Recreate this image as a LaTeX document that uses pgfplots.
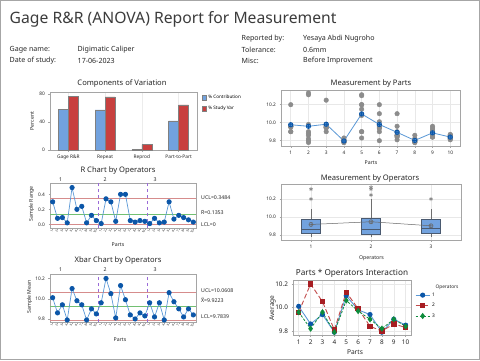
\documentclass[border=0pt]{standalone}
\usepackage{fontspec}
\setmainfont{Noto Sans}
\usepackage{pgfplots}
\pgfplotsset{compat=1.18}
\definecolor{mblue}{HTML}{72A2DE}
\definecolor{mred}{HTML}{C8403F}
\definecolor{frm}{HTML}{A5A5A5}
\definecolor{dotblue}{HTML}{0B56A8}
\definecolor{lineblue}{HTML}{5A98D6}
\definecolor{uclc}{HTML}{D68C8C}
\definecolor{clc}{HTML}{72C072}
\definecolor{purp}{HTML}{9A6AD8}
\definecolor{ptgray}{HTML}{8C8C8C}
\definecolor{optwo}{HTML}{A71D22}
\definecolor{optwol}{HTML}{C24A4A}
\definecolor{opthree}{HTML}{0E8C3C}
\definecolor{txt}{HTML}{262626}
\definecolor{boxedge}{HTML}{4A5A70}
\definecolor{whisk}{HTML}{6E6E6E}
\newcommand{\fs}[1]{\fontsize{#1}{#1}\selectfont}
\pgfplotsset{
  panel/.style={
    scale only axis, anchor=north west,
    axis line style={draw=frm, line width=0.7pt},
    tick align=outside, tick pos=left, major tick length=1.5pt,
    every tick/.style={draw=frm, line width=0.4pt},
    tick label style={font=\fs{4.8}, text=txt},
    /pgf/number format/assume math mode=true,
  },
  yfix/.style={y tick label style={/pgf/number format/.cd, fixed, fixed zerofill, precision=1, /tikz/.cd}},
  lgrid/.style={grid=major, major grid style={gray!18, line width=0.5pt}},
  wh/.style={whisk, line width=0.6pt, forget plot},
  bx/.style={fill=mblue, draw=boxedge, line width=0.6pt, forget plot},
}
\begin{document}
\begin{tikzpicture}[x=1pt,y=1pt]
\useasboundingbox (0,0) rectangle (480,-360);
\fill[white] (0,0) rectangle (480,-360);
\draw[gray!70, line width=0.8pt] (0.6,-0.6) rectangle (479.4,-359.4);
% header
\node[anchor=west, font=\fs{15.7}, text=txt!90, inner sep=0pt] at (9.5,-19) {Gage R\&R (ANOVA) Report for Measurement};
\begin{scope}[every node/.style={anchor=west, font=\fs{7.1}, text=txt, inner sep=0pt}]
\node at (241.5,-38.3) {Reported by:};
\node at (303,-38.3) {Yesaya Abdi Nugroho};
\node at (9.5,-50) {Gage name:};
\node at (77.5,-50) {Digimatic Caliper};
\node at (241.5,-50) {Tolerance:};
\node at (303,-50) {0.6mm};
\node at (9.5,-60.7) {Date of study:};
\node at (77.5,-60.7) {17-06-2023};
\node at (241.5,-60.7) {Misc:};
\node at (303,-60.7) {Before Improvement};
\end{scope}
% panel titles and labels
\begin{scope}[every node/.style={font=\fs{7.6}, text=txt, inner sep=0pt}]
\node at (122,-83.5) {Components of Variation};
\node at (371,-83.3) {Measurement by Parts};
\node at (118,-171) {R Chart by Operators};
\node at (370,-179) {Measurement by Operators};
\node at (118,-261) {Xbar Chart by Operators};
\node[font=\fs{8.2}] at (352,-273.5) {Parts * Operators Interaction};
\end{scope}
\begin{scope}[every node/.style={font=\fs{5.2}, text=txt, inner sep=0pt}]
\node[rotate=90] at (32,-121) {Percent};
\node at (371,-163) {Parts};
\node[rotate=90] at (31.5,-204) {Sample Range};
\node at (118,-245) {Parts};
\node at (371.5,-258) {Operators};
\node[rotate=90] at (29.5,-297) {Sample Mean};
\node at (120,-340) {Parts};
\node[font=\fs{6.6}] at (355,-352) {Parts};
\node[rotate=90, font=\fs{6.6}] at (272.5,-308) {Average};
\node at (60.5,-179.5) {1};
\node at (105,-179.5) {2};
\node at (155,-179.5) {3};
\node at (60.5,-270) {1};
\node at (105,-270) {2};
\node at (155,-270) {3};
\node[anchor=west] at (201,-197.3) {UCL=0.3484};
\node[anchor=west] at (201,-212.6) {$\bar{\mbox{R}}$=0.1353};
\node[anchor=west] at (201,-225) {LCL=0};
\node[anchor=west] at (201,-290.7) {UCL=10.0608};
\node[anchor=west] at (201,-300.2) {$\bar{\bar{\mbox{X}}}$=9.9223};
\node[anchor=west] at (201,-316.7) {LCL=9.7839};
\node[font=\fs{4.8}] at (447,-287.3) {Operators};
\end{scope}

% Components of variation
\begin{axis}[panel, at={(50pt,-92pt)}, width=147pt, height=58pt,
  xmin=-0.5, xmax=3.5, ymin=0, ymax=83, ytick={0,40,80},
  xtick={0,1,2,3}, xticklabels={Gage R\&R, Repeat, Reprod, Part-to-Part},
  xmajorgrids, major grid style={gray!15},
  ybar=0pt, bar width=10pt,
  legend style={at={(1.03,0.985)}, anchor=north west, draw=none, fill=none,
    font=\fs{4.6}, inner sep=0pt, row sep=2pt, cells={anchor=west}},
  legend image code/.code={\draw[#1] (0pt,-2.2pt) rectangle (4.4pt,2.2pt);}]
\addplot[fill=mblue, draw=gray] coordinates {(0,58.2) (1,57.6) (2,0.6) (3,41.8)};
\addplot[fill=mred, draw=gray] coordinates {(0,76.3) (1,75.9) (2,7.7) (3,64.7)};
\legend{\% Contribution, \% Study Var}
\end{axis}

% Measurement by Parts
\begin{axis}[panel, yfix, lgrid, at={(281pt,-90pt)}, width=179pt, height=56pt,
  xmin=0.45, xmax=10.55, ymin=9.741, ymax=10.363, xtick={1,...,10}, ytick={9.8,10.0,10.2}]
\addplot[only marks, mark=*, mark size=2.3pt, ptgray] table {
x y
1 9.90
1 9.90
1 10.20
1 9.96
1 9.96
1 9.97
1 9.95
1 9.96
1 9.96
2 9.82
2 9.86
2 9.90
2 9.98
2 10.31
2 10.33
2 9.78
2 9.80
2 9.88
3 9.90
3 9.94
3 9.98
3 9.95
3 9.95
3 10.25
3 9.95
3 9.96
3 9.97
4 9.78
4 9.79
4 9.80
4 9.79
4 9.81
4 9.83
4 9.78
4 9.79
4 9.81
5 9.83
5 10.15
5 10.31
5 9.90
5 10.20
5 10.30
5 9.90
5 10.08
5 10.20
6 9.90
6 9.94
6 10.10
6 9.80
6 9.97
6 10.20
6 9.94
6 9.96
6 10.01
7 9.86
7 9.86
7 10.10
7 9.81
7 9.85
7 9.86
7 9.84
7 9.90
7 9.96
8 9.78
8 9.79
8 9.80
8 9.79
8 9.80
8 9.82
8 9.78
8 9.82
8 9.86
9 9.84
9 9.90
9 9.96
9 9.84
9 9.86
9 9.89
9 9.87
9 9.92
9 9.94
10 9.82
10 9.86
10 9.87
10 9.81
10 9.83
10 9.85
10 9.83
10 9.84
10 9.86
};
\addplot[lineblue, line width=0.8pt, mark=oplus*, mark size=2.2pt, mark options={fill=lineblue, draw=dotblue}] coordinates {
(1,9.977) (2,9.960) (3,9.983) (4,9.797) (5,10.097) (6,9.980) (7,9.893) (8,9.803) (9,9.887) (10,9.840)};
\end{axis}

% R chart
\begin{axis}[panel, yfix, at={(50pt,-183pt)}, width=146pt, height=45pt,
  xmin=0.45, xmax=30.55, ymin=-0.049, ymax=0.551, ytick={0,0.2,0.4},
  xtick={1,...,30},
  xticklabels={1,2,3,4,5,6,7,8,9,10,1,2,3,4,5,6,7,8,9,10,1,2,3,4,5,6,7,8,9,10},
  x tick label style={font=\fs{3.2}, rotate=60, anchor=east, inner sep=0.6pt}]
\addplot[uclc, line width=0.9pt] coordinates {(0.45,0.3484) (30.55,0.3484)};
\addplot[clc, line width=0.9pt] coordinates {(0.45,0.1353) (30.55,0.1353)};
\addplot[uclc, line width=0.9pt] coordinates {(0.45,0) (30.55,0)};
\addplot[purp, dashed, line width=0.6pt] coordinates {(10.5,-0.049) (10.5,0.551)};
\addplot[purp, dashed, line width=0.6pt] coordinates {(20.5,-0.049) (20.5,0.551)};
\addplot[lineblue, line width=0.7pt, mark=*, mark size=2.2pt, mark options={fill=dotblue, draw=dotblue}] coordinates {
(1,0.30) (2,0.08) (3,0.09) (4,0.02) (5,0.49) (6,0.20) (7,0.24) (8,0.02) (9,0.12) (10,0.05)
(11,0.01) (12,0.34) (13,0.30) (14,0.04) (15,0.40) (16,0.40) (17,0.05) (18,0.03) (19,0.05) (20,0.04)
(21,0.01) (22,0.08) (23,0.02) (24,0.03) (25,0.30) (26,0.07) (27,0.12) (28,0.09) (29,0.06) (30,0.03)};
\end{axis}

% Xbar chart
\begin{axis}[panel, yfix, at={(50pt,-274pt)}, width=146pt, height=48pt,
  xmin=0.45, xmax=30.55, ymin=9.770, ymax=10.244, ytick={9.8,10.0,10.2},
  xtick={1,...,30},
  xticklabels={1,2,3,4,5,6,7,8,9,10,1,2,3,4,5,6,7,8,9,10,1,2,3,4,5,6,7,8,9,10},
  x tick label style={font=\fs{3.2}, rotate=60, anchor=east, inner sep=0.6pt}]
\addplot[uclc, line width=0.9pt] coordinates {(0.45,10.0608) (30.55,10.0608)};
\addplot[clc, line width=0.9pt] coordinates {(0.45,9.9223) (30.55,9.9223)};
\addplot[uclc, line width=0.9pt] coordinates {(0.45,9.7839) (30.55,9.7839)};
\addplot[purp, dashed, line width=0.6pt] coordinates {(10.5,9.77) (10.5,10.244)};
\addplot[purp, dashed, line width=0.6pt] coordinates {(20.5,9.77) (20.5,10.244)};
\addplot[lineblue, line width=0.7pt, mark=*, mark size=2.2pt, mark options={fill=dotblue, draw=dotblue}] coordinates {
(1,10.01) (2,9.86) (3,9.94) (4,9.79) (5,10.10) (6,9.98) (7,9.94) (8,9.79) (9,9.90) (10,9.85)
(11,9.96) (12,10.20) (13,10.05) (14,9.81) (15,10.13) (16,9.99) (17,9.84) (18,9.80) (19,9.86) (20,9.83)
(21,9.96) (22,9.82) (23,9.96) (24,9.79) (25,10.06) (26,9.97) (27,9.90) (28,9.82) (29,9.90) (30,9.84)};
\end{axis}

% Boxplot by operators (drawn from five-number summaries)
\begin{axis}[panel, yfix, at={(281pt,-184pt)}, width=180pt, height=56pt,
  xmin=0.5, xmax=3.5, ymin=9.744, ymax=10.367, xtick={1,2,3}, ytick={9.8,10.0,10.2},
  ymajorgrids, xmajorgrids, major grid style={gray!18}]
\addplot[wh] coordinates {(1,9.78) (1,9.82)};
\addplot[wh] coordinates {(1,9.97) (1,10.09)};
\addplot[wh] coordinates {(2,9.78) (2,9.81)};
\addplot[wh] coordinates {(2,9.985) (2,10.20)};
\addplot[wh] coordinates {(3,9.78) (3,9.82)};
\addplot[wh] coordinates {(3,9.97) (3,10.09)};
\addplot[bx] coordinates {(0.84,9.82) (1.16,9.82) (1.16,9.97) (0.84,9.97)} -- cycle;
\addplot[bx] coordinates {(1.84,9.81) (2.16,9.81) (2.16,9.985) (1.84,9.985)} -- cycle;
\addplot[bx] coordinates {(2.84,9.82) (3.16,9.82) (3.16,9.97) (2.84,9.97)} -- cycle;
\addplot[boxedge, line width=0.7pt] coordinates {(0.84,9.865) (1.16,9.865)};
\addplot[boxedge, line width=0.7pt] coordinates {(1.84,9.865) (2.16,9.865)};
\addplot[boxedge, line width=0.7pt] coordinates {(2.84,9.875) (3.16,9.875)};
\addplot[only marks, mark=asterisk, mark size=2pt, ptgray, line width=0.6pt] coordinates {
(1,10.20) (1,10.31) (2,10.245) (2,10.31) (2,10.33) (3,10.20)};
\addplot[gray!80!black, line width=0.5pt, mark=oplus, mark size=2.1pt] coordinates {(1,9.917) (2,9.947) (3,9.902)};
\end{axis}

% Interaction plot
\begin{axis}[panel, yfix, lgrid, at={(293pt,-280pt)}, width=118pt, height=55pt,
  xmin=0.52, xmax=10.45, ymin=9.766, ymax=10.234, xtick={1,...,10}, ytick={9.8,10.0,10.2},
  tick label style={font=\fs{6.4}, text=txt},
  legend style={at={(1.034,0.81)}, anchor=north west, draw=none, fill=none,
    font=\fs{4.8}, inner sep=0pt, row sep=1.5pt, cells={anchor=west}},
  legend image code/.code={\draw[mark repeat=2, mark phase=2, #1] plot coordinates {(0pt,0pt) (7pt,0pt) (14pt,0pt)};}]
\addplot[lineblue, line width=0.9pt, mark=*, mark size=2.1pt, mark options={solid, fill=dotblue, draw=dotblue}] coordinates {
(1,10.01) (2,9.86) (3,9.94) (4,9.79) (5,10.10) (6,9.98) (7,9.94) (8,9.79) (9,9.90) (10,9.85)};
\addplot[optwol, line width=0.9pt, dash pattern=on 5pt off 2.5pt, mark=square*, mark size=2.2pt, mark options={solid, fill=optwo, draw=optwo}] coordinates {
(1,9.96) (2,10.20) (3,10.05) (4,9.81) (5,10.13) (6,9.99) (7,9.84) (8,9.80) (9,9.86) (10,9.83)};
\addplot[opthree, line width=0.8pt, dash pattern=on 2.5pt off 1.5pt, mark=diamond*, mark size=2.5pt, mark options={solid, fill=opthree, draw=opthree}] coordinates {
(1,9.96) (2,9.82) (3,9.96) (4,9.79) (5,10.06) (6,9.97) (7,9.90) (8,9.82) (9,9.90) (10,9.84)};
\legend{1,2,3}
\end{axis}
\end{tikzpicture}
\end{document}
